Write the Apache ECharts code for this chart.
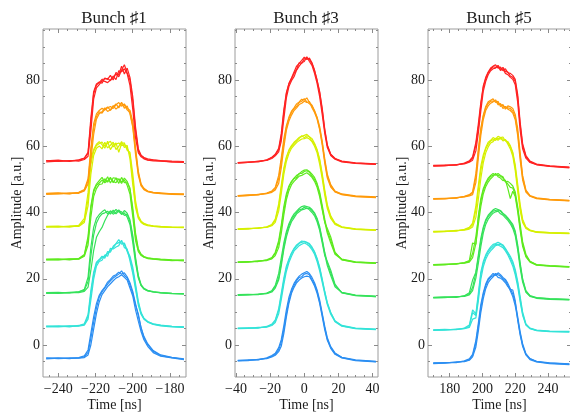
<!DOCTYPE html>
<html>
<head>
<meta charset="utf-8">
<script src="https://cdn.jsdelivr.net/npm/echarts@6/dist/echarts.min.js"></script>
<style>
html, body { margin: 0; padding: 0; background: #ffffff; }
#chart { width: 570px; height: 413px; }
</style>
</head>
<body>
<div id="chart"></div>
<script>
// Panel titles and axis tick values
const panelTitles = ['Bunch \u266F1', 'Bunch \u266F3', 'Bunch \u266F5'];
const ampMajor = [0, 20, 40, 60, 80];
const ampMinor = [-5, 0, 5, 10, 15, 20, 25, 30, 35, 40, 45, 50, 55, 60, 65, 70, 75, 80, 85, 90, 95];
const b1TimeMajor = [-240, -220, -200, -180];
const b1TimeMinor = [-245, -240, -235, -230, -225, -220, -215, -210, -205, -200, -195, -190, -185, -180, -175];
const b3TimeMajor = [-40, -20, 0, 20, 40];
const b3TimeMinor = [-40, -35, -30, -25, -20, -15, -10, -5, 0, 5, 10, 15, 20, 25, 30, 35, 40];
const b5TimeMajor = [180, 200, 220, 240];
const b5TimeMinor = [170, 175, 180, 185, 190, 195, 200, 205, 210, 215, 220, 225, 230, 235, 240, 245, 250];

// Bunch #1: sample times [ns] and amplitude traces (3 shots per trace group)
const b1Time = [-246.5,-240,-234,-229,-226,-224,-222.5,-221,-219.5,-218,-216.5,-215,-213.5,-212,-210.5,-209,-207.5,-206,-204.5,-203,-201.5,-200,-198.5,-197,-195.5,-194,-192,-189,-185,-179,-172.5];
const b1Blue = [
  [-4.0,-3.9,-4.1,-3.8,-3.3,-1.5,3.5,8.5,12.5,15.0,16.4,17.5,19.0,19.8,20.8,21.2,22.0,21.4,21.8,20.6,18.8,16.2,12.5,8.8,5.2,2.6,0.4,-1.7,-3.0,-3.7,-4.2],
  [-4.2,-4.0,-3.9,-4.0,-3.8,-3.0,0.0,4.8,9.5,13.0,15.2,16.4,17.6,18.5,19.4,20.2,20.6,21.2,20.4,19.6,17.2,14.8,10.6,7.2,4.0,1.6,-0.4,-2.3,-3.4,-3.9,-4.4],
  [-3.9,-4.1,-4.0,-3.9,-3.6,-2.2,2.0,6.8,11.2,14.4,16.0,17.2,18.4,19.4,20.2,20.8,21.4,22.4,21.0,20.2,18.2,15.6,12.0,9.4,5.0,2.2,0.1,-1.9,-3.2,-3.8,-4.3]
];
const b1Cyan = [
  [5.7,5.8,5.5,5.9,6.4,9.2,16.5,22.0,25.0,25.8,26.8,26.2,28.2,28.0,29.8,30.6,31.8,30.4,30.8,28.6,26.8,23.5,18.5,13.2,9.8,8.1,7.1,6.4,6.0,5.6,5.5],
  [5.5,5.6,5.8,5.7,6.0,7.8,13.5,19.8,23.8,25.2,25.6,27.2,26.8,29.2,29.0,29.6,30.0,31.6,29.4,29.0,25.4,21.6,16.8,12.0,9.2,7.8,6.9,6.2,5.8,5.5,5.3],
  [5.6,5.5,5.7,5.8,6.2,8.6,15.2,21.2,24.6,25.6,26.4,26.9,27.6,28.6,29.4,30.5,30.9,31.2,30.4,28.2,26.2,22.6,17.6,12.6,9.5,8.0,7.0,6.3,5.9,5.6,5.4]
];
const b1Green = [
  [15.8,15.9,15.7,16.0,16.8,20.5,29.5,35.5,38.2,39.4,40.2,40.8,39.6,40.5,40.0,40.9,40.2,39.5,40.6,39.8,37.8,33.2,26.5,21.0,18.2,17.1,16.5,16.1,15.8,15.6,15.5],
  [15.6,15.7,15.9,15.8,16.2,17.5,22.5,28.5,32.5,34.2,35.5,37.5,39.2,40.3,39.5,40.1,40.8,39.4,39.9,38.6,36.4,31.0,24.8,20.2,17.9,16.9,16.3,16.0,15.7,15.5,15.4],
  [15.7,15.6,15.8,16.1,16.5,19.2,26.8,33.2,36.8,38.6,39.6,39.9,40.4,39.5,40.7,39.6,40.5,40.2,39.1,39.5,37.2,32.4,25.8,20.6,18.0,17.0,16.4,16.0,15.8,15.6,15.4]
];
const b1Lime = [
  [25.9,26.0,25.7,26.1,27.3,32.8,42.0,46.8,48.6,49.6,50.6,49.2,50.8,48.9,50.5,50.3,48.8,50.6,49.0,49.2,47.4,41.5,33.8,29.0,27.4,26.7,26.3,26.1,25.9,25.7,25.6],
  [25.7,25.8,26.0,25.9,26.8,30.2,38.5,44.8,47.2,48.5,48.6,50.2,49.2,50.3,49.4,49.0,50.2,49.3,49.8,48.2,45.6,38.8,31.5,28.2,27.0,26.5,26.1,25.9,25.7,25.6,25.4],
  [25.8,25.7,25.9,26.0,27.1,31.8,41.2,46.2,48.2,48.9,49.8,49.0,49.6,50.6,49.0,50.4,49.9,48.8,50.4,49.4,46.9,40.4,33.0,28.6,27.3,26.6,26.2,26.0,25.8,25.5,25.6]
];
const b1Yellow = [
  [35.8,35.9,35.6,36.0,37.5,44.0,54.5,58.5,60.2,60.8,61.3,60.0,60.9,61.5,59.8,60.6,61.0,60.2,60.5,59.4,57.5,50.0,42.5,38.6,37.2,36.6,36.2,36.0,35.8,35.6,35.5],
  [35.6,35.7,35.9,35.8,37.0,42.0,51.5,57.2,59.4,60.1,59.2,61.2,59.5,60.3,61.2,59.0,60.0,61.4,59.6,60.3,56.2,48.5,41.5,38.2,37.0,36.4,36.0,35.8,35.6,35.5,35.4],
  [35.7,35.6,35.8,36.1,38.2,46.0,56.0,59.0,60.6,61.4,60.5,59.4,61.5,59.0,60.4,61.0,58.2,60.8,61.0,58.8,58.2,51.8,43.6,39.0,37.4,36.7,36.3,35.9,35.7,35.5,35.6]
];
const b1Orange = [
  [45.8,45.9,45.6,46.1,46.9,50.2,59.5,66.8,69.8,70.8,71.5,70.9,71.6,72.0,71.4,72.5,73.2,72.1,72.8,71.4,70.9,67.5,59.5,52.4,48.6,47.3,46.5,46.1,45.9,45.6,45.6],
  [45.5,45.6,45.9,45.8,46.5,48.6,55.8,63.5,68.2,69.8,70.4,71.6,70.5,71.0,72.3,71.2,72.0,73.3,71.5,72.2,69.8,65.8,57.5,51.2,48.0,46.9,46.3,45.9,45.7,45.5,45.4],
  [45.7,45.8,45.7,46.0,46.7,49.5,58.2,65.5,69.0,70.4,70.0,71.2,71.9,70.8,71.9,72.8,71.6,72.9,72.4,71.0,70.2,66.2,58.8,51.8,48.3,47.1,46.4,46.0,45.8,45.7,45.5]
];
const b1Red = [
  [55.6,55.8,55.4,55.9,56.4,58.2,68.5,76.5,78.8,79.4,79.0,80.6,80.2,81.4,80.0,82.3,81.5,84.2,81.8,83.6,80.8,75.0,65.8,59.2,57.3,56.6,56.2,55.9,55.7,55.5,55.4],
  [55.3,55.5,55.7,55.5,56.0,57.0,64.5,74.2,77.6,78.6,79.8,79.6,79.2,80.0,81.2,80.1,82.8,82.5,83.4,81.9,78.4,71.2,62.5,58.0,56.8,56.2,55.8,55.6,55.5,55.3,55.1],
  [55.7,55.4,55.6,55.8,56.3,57.9,67.2,75.8,78.5,79.2,80.2,80.3,80.5,79.8,80.9,81.8,81.0,83.0,84.6,82.2,80.0,73.8,64.8,58.6,57.1,56.5,55.9,55.8,55.6,55.3,55.2]
];

// Bunch #3
const b3Time = [-39,-33,-27,-22,-19,-17,-15,-13.5,-12,-10.5,-9,-7.5,-6,-4.5,-3,-1.5,0,1.5,3,4.5,6,7.5,9,10.5,12,13.5,15.5,18,22,30,42];
const b3Blue = [
  [-4.6,-4.5,-4.5,-3.9,-3.2,-2.5,-0.8,1.6,5.8,10.6,14.4,16.8,18.6,19.8,20.8,21.4,21.8,22.2,21.6,20.4,18.8,16.6,13.6,9.6,5.6,2.2,-0.5,-2.4,-3.7,-4.5,-4.9],
  [-4.8,-4.7,-4.3,-4.1,-3.6,-3.1,-2.0,-0.4,3.4,8.4,12.6,15.6,17.4,18.8,19.6,20.2,20.6,20.8,20.6,19.4,17.8,15.6,12.6,8.6,4.6,1.4,-1.0,-2.8,-3.9,-4.7,-5.1],
  [-4.7,-4.6,-4.4,-4.0,-3.4,-2.8,-1.4,0.8,4.6,9.4,13.4,16.2,18.0,19.4,20.4,20.6,21.4,21.6,21.2,19.6,18.4,16.2,13.0,9.2,5.2,1.8,-0.8,-2.6,-3.8,-4.6,-5.0]
];
const b3Cyan = [
  [5.1,5.2,5.1,5.6,6.3,7.6,11.0,15.6,20.2,23.8,26.0,27.8,29.2,30.2,30.8,31.4,31.2,31.0,30.6,29.6,28.2,26.2,23.6,20.0,16.2,12.8,9.8,7.3,5.9,5.1,4.8],
  [4.9,5.0,5.3,5.4,5.9,6.8,9.4,13.6,18.2,22.2,24.9,26.8,28.4,29.2,30.0,30.4,30.8,30.4,29.8,28.8,27.4,25.2,22.4,18.9,15.4,12.2,9.3,7.0,5.7,4.9,4.6],
  [5.0,5.1,5.2,5.5,6.1,7.3,10.4,14.8,19.4,23.2,25.6,27.6,28.9,29.9,30.7,31.0,31.3,30.9,30.3,29.3,28.0,25.9,23.2,19.6,16.0,12.6,9.7,7.2,5.8,5.0,4.7]
];
const b3Green = [
  [15.2,15.3,15.2,15.7,16.4,18.0,21.6,26.2,30.8,34.2,36.6,38.3,39.6,40.4,41.2,41.8,42.0,41.8,41.6,40.9,39.9,38.3,35.8,32.0,28.0,24.8,21.8,18.0,15.9,15.1,14.8],
  [15.0,15.1,15.4,15.5,16.0,17.2,19.6,23.8,28.8,32.6,35.2,37.2,38.4,39.6,40.2,40.8,41.0,41.4,40.8,40.0,39.0,37.2,34.6,30.8,27.0,25.2,22.6,18.4,15.7,14.9,14.6],
  [15.1,15.2,15.3,15.6,16.3,17.6,20.2,24.8,29.6,33.6,36.0,37.9,39.0,40.0,40.8,41.0,41.6,41.2,41.3,40.6,39.6,37.8,35.2,31.6,27.4,24.0,21.0,17.6,15.8,15.0,14.6]
];
const b3Lime = [
  [25.1,25.2,25.2,25.7,26.4,28.0,31.5,36.2,41.8,45.6,48.0,49.4,50.4,51.2,51.6,52.4,52.8,52.9,52.4,51.6,50.6,48.8,46.2,42.2,38.0,34.4,31.6,27.8,25.9,25.1,24.8],
  [24.9,25.0,25.4,25.5,26.0,27.0,29.4,33.6,39.2,43.8,46.6,48.4,49.4,50.2,51.0,51.2,51.6,52.0,51.4,50.6,49.4,47.6,44.8,40.8,37.0,35.2,32.6,28.0,25.7,24.9,24.6],
  [25.0,25.1,25.3,25.6,26.2,27.6,30.8,35.4,40.6,44.9,47.6,49.2,50.2,50.6,51.8,51.8,52.4,52.6,52.2,51.0,50.0,48.4,45.6,41.4,37.2,33.8,30.8,27.4,25.8,25.0,24.7]
];
const b3Yellow = [
  [35.1,35.2,35.2,35.7,36.4,38.0,42.6,48.2,53.4,56.8,58.9,60.2,61.2,61.9,62.7,62.9,63.3,63.6,62.9,62.3,60.9,59.0,56.2,51.8,46.8,42.4,39.0,36.8,35.7,35.1,34.8],
  [34.9,35.0,35.4,35.5,36.0,37.0,40.4,45.6,51.4,55.4,57.8,59.4,60.3,61.1,61.7,62.2,62.3,62.6,62.2,61.4,60.0,58.0,54.6,50.2,45.2,41.2,38.2,36.4,35.5,34.9,34.6],
  [35.0,35.1,35.3,35.6,36.2,37.6,41.8,47.2,52.8,56.4,58.6,60.0,60.9,61.6,62.4,63.2,62.6,63.2,62.8,61.6,60.6,58.8,55.8,51.2,46.2,41.9,38.7,36.6,35.6,35.0,34.7]
];
const b3Orange = [
  [45.1,45.3,45.3,45.9,46.5,47.6,51.2,56.5,62.2,66.2,68.8,70.6,71.6,72.8,73.4,74.2,73.9,74.6,73.2,72.4,70.8,68.8,66.0,61.6,56.2,51.6,48.4,46.5,45.6,45.0,44.7],
  [44.9,45.1,45.5,45.7,46.1,46.8,48.8,53.4,59.6,64.8,67.6,69.4,70.8,71.6,72.6,73.0,73.6,73.2,73.5,71.6,70.2,68.2,65.0,60.4,54.8,50.4,47.7,46.2,45.4,44.8,44.5],
  [45.0,45.2,45.4,45.8,46.3,47.3,50.2,55.2,61.0,65.6,68.4,70.2,71.4,72.0,73.2,73.6,74.4,73.4,72.8,72.2,70.6,68.6,65.4,61.0,55.6,51.0,48.1,46.3,45.5,44.9,44.6]
];
const b3Red = [
  [55.1,55.3,55.3,55.9,56.7,57.6,59.4,63.8,71.0,76.2,79.0,80.6,82.4,84.2,85.0,85.9,86.9,86.2,86.6,85.2,83.0,80.0,76.6,71.5,65.2,60.4,57.6,56.3,55.5,55.0,54.7],
  [54.9,55.1,55.5,55.7,56.3,57.1,58.3,61.5,68.2,74.6,78.0,79.8,81.0,83.0,84.2,85.2,85.6,87.0,85.6,84.4,82.0,79.0,75.0,69.6,63.8,59.6,57.2,56.1,55.3,54.8,54.5],
  [55.0,55.1,55.4,55.8,56.6,57.4,59.0,62.8,70.2,75.8,78.8,80.4,82.0,83.2,85.2,85.0,86.4,86.6,86.2,85.0,82.8,79.8,76.2,70.9,64.8,60.2,57.5,56.3,55.4,54.9,54.6]
];

// Bunch #5
const b5Time = [170,177,184,189,192,194,196,197.5,199,200.5,202,203.5,205,206.5,208,209.5,211,212.5,214,215.5,217,218.5,220,221.5,223,224.5,226.5,229,233,241,253];
const b5Blue = [
  [-5.4,-5.3,-5.3,-4.8,-4.2,-2.8,1.4,6.6,12.2,15.8,18.4,20.0,20.8,21.6,21.0,21.8,21.2,20.4,19.8,18.6,17.0,15.4,12.8,8.6,4.0,0.4,-2.6,-4.1,-4.9,-5.4,-5.7],
  [-5.6,-5.5,-5.1,-5.0,-4.6,-3.6,-0.6,4.2,9.8,14.0,17.0,18.8,19.8,20.6,21.4,20.4,20.2,19.6,18.8,17.6,16.8,16.6,13.4,7.4,3.0,-0.4,-3.0,-4.4,-5.1,-5.6,-5.9],
  [-5.5,-5.4,-5.2,-4.9,-4.4,-3.2,0.6,5.6,11.2,15.2,17.9,19.6,20.5,21.0,21.6,21.2,20.8,20.0,19.4,18.0,16.4,14.6,11.8,7.9,3.4,-0.1,-2.8,-4.2,-5.0,-5.5,-5.8]
];
const b5Cyan = [
  [4.6,4.7,4.6,5.1,6.0,10.6,9.4,15.6,22.0,25.2,27.2,28.6,29.6,30.4,30.6,31.0,30.6,30.2,29.2,28.0,26.8,25.2,22.8,19.2,14.6,10.0,6.4,5.1,4.5,4.2,4.1],
  [4.4,4.5,4.8,4.9,5.3,7.8,8.2,13.2,19.8,23.6,25.9,27.4,28.4,29.2,30.0,30.2,29.8,29.4,28.4,27.2,25.6,23.8,21.2,17.6,13.0,9.0,6.0,4.9,4.3,4.0,3.9],
  [4.5,4.6,4.7,5.0,5.6,9.8,8.9,14.6,21.2,24.6,26.7,28.1,29.1,29.8,30.4,30.4,30.4,29.9,28.9,27.7,26.3,24.6,22.1,18.6,13.8,9.4,6.2,5.0,4.4,4.1,4.0]
];
const b5Green = [
  [14.4,14.5,14.4,14.9,15.8,19.6,22.0,27.2,32.2,35.6,37.8,39.2,40.0,40.8,41.2,40.9,40.6,39.8,39.2,38.4,37.4,36.4,34.4,30.2,24.8,20.0,16.4,14.9,14.3,14.0,13.8],
  [14.2,14.3,14.6,14.7,15.1,16.4,20.2,24.6,29.6,33.8,36.4,38.0,39.0,39.8,40.2,40.4,39.6,39.2,38.4,37.6,36.6,35.2,33.0,28.6,23.2,19.0,15.9,14.7,14.1,13.8,13.6],
  [14.3,14.4,14.5,14.8,15.4,17.4,21.8,26.4,31.2,35.0,37.4,38.8,39.6,40.4,40.6,40.8,40.4,39.4,39.0,38.0,37.2,35.8,33.9,29.6,24.2,19.6,16.2,14.8,14.2,13.9,13.7]
];
const b5Lime = [
  [24.3,24.4,24.4,24.9,25.5,30.8,30.4,39.0,44.2,47.2,49.0,50.4,51.2,51.8,51.2,51.8,51.2,50.8,49.2,49.4,48.8,48.0,46.2,41.8,36.4,31.2,27.4,25.3,24.3,24.0,23.7],
  [24.1,24.2,24.6,24.7,25.0,26.4,30.6,36.4,41.8,45.6,47.8,49.2,50.2,50.9,51.8,50.8,50.4,49.6,49.8,47.2,44.2,46.4,44.8,40.2,34.6,29.8,26.6,25.0,24.1,23.8,23.5],
  [24.2,24.3,24.5,24.8,25.3,27.6,32.8,38.4,43.4,46.6,48.6,49.9,50.9,51.2,51.6,51.2,51.0,50.4,49.4,48.6,47.6,47.4,45.4,41.0,35.4,30.4,26.9,25.2,24.2,23.9,23.6]
];
const b5Yellow = [
  [34.3,34.4,34.4,34.9,35.5,36.8,42.0,48.2,54.0,57.4,59.6,61.2,61.8,62.6,62.2,63.0,62.6,62.8,61.6,61.4,60.2,58.2,54.4,48.6,42.4,38.0,35.6,34.7,34.2,33.9,33.8],
  [34.1,34.2,34.6,34.7,35.0,35.6,38.6,44.0,50.2,55.0,58.0,59.8,61.0,61.4,62.4,61.8,62.6,61.6,62.0,60.6,59.2,57.0,52.6,46.4,40.6,37.0,35.2,34.5,34.0,33.8,33.6],
  [34.2,34.3,34.5,34.8,35.3,36.3,40.8,46.8,52.6,56.6,59.2,60.6,61.6,62.0,61.8,62.4,62.2,62.2,61.9,61.0,59.9,57.8,53.6,47.6,41.6,37.4,35.4,34.6,34.1,33.9,33.7]
];
const b5Orange = [
  [44.2,44.3,44.3,44.9,45.4,46.2,51.8,59.2,65.4,69.4,72.0,73.4,73.9,74.3,73.2,73.6,72.0,72.6,71.2,72.2,71.9,71.4,69.6,65.4,58.0,51.2,46.8,45.1,44.4,44.0,43.7],
  [44.0,44.1,44.5,44.7,45.0,45.4,49.0,56.4,63.2,68.0,70.8,72.2,73.0,73.4,74.0,72.5,72.9,71.4,72.0,71.2,70.8,70.0,68.0,63.2,55.8,49.8,46.2,44.9,44.2,43.8,43.5],
  [44.1,44.2,44.4,44.8,45.2,45.9,50.6,58.2,64.8,69.0,71.6,72.9,73.6,73.6,73.8,72.9,72.6,72.2,71.8,71.6,71.4,70.6,68.8,64.2,57.2,50.6,46.6,45.0,44.3,43.9,43.6]
];
const b5Red = [
  [54.2,54.3,54.3,54.9,55.6,56.8,61.2,66.8,73.2,78.2,80.8,82.4,83.6,84.2,84.6,83.6,83.9,82.8,83.4,82.2,82.0,81.4,80.2,75.6,67.2,60.8,57.2,55.5,54.6,54.1,53.7],
  [54.0,54.1,54.5,54.7,55.2,55.8,58.6,64.0,70.6,76.6,79.6,81.6,82.8,83.4,83.6,84.2,82.9,83.4,82.0,81.6,80.8,80.2,78.6,73.2,64.8,59.2,56.4,55.1,54.4,53.9,53.5],
  [54.1,54.2,54.4,54.8,55.4,56.4,60.4,65.6,72.4,77.8,80.4,82.2,83.2,84.0,83.8,84.4,83.2,83.8,82.6,82.4,81.2,80.8,79.6,74.8,66.4,60.2,56.9,55.3,54.5,54.0,53.6]
];

// One colour per trace group, bottom to top
const groupColors = ['#2b8ef2', '#33e3d8', '#35e25a', '#5eea1e', '#d6f000', '#ff9a0a', '#ff2222'];

const SERIF = "'Liberation Serif', 'DejaVu Serif', serif";
const TEXT = '#1c1c1c';
const FRAME = '#9c9c9c';
const TICK = '#8a8a8a';

const panels = [
  { title: panelTitles[0], time: b1Time, groups: [b1Blue, b1Cyan, b1Green, b1Lime, b1Yellow, b1Orange, b1Red],
    range: [-248.2, -171.4], major: b1TimeMajor, minor: b1TimeMinor, left: 43 },
  { title: panelTitles[1], time: b3Time, groups: [b3Blue, b3Cyan, b3Green, b3Lime, b3Yellow, b3Orange, b3Red],
    range: [-40.6, 43.2], major: b3TimeMajor, minor: b3TimeMinor, left: 235 },
  { title: panelTitles[2], time: b5Time, groups: [b5Blue, b5Cyan, b5Green, b5Lime, b5Yellow, b5Orange, b5Red],
    range: [166.8, 254.0], major: b5TimeMajor, minor: b5TimeMinor, left: 428 }
];

const Y_MIN = -9.66, Y_MAX = 95.4;
const fmtNum = v => (v < 0 ? '\u2212' + Math.abs(v) : String(v));

const grid = [], xAxis = [], yAxis = [], series = [], title = [];

panels.forEach((p, i) => {
  // fixed plot frames: labels are allowed to sit outside without shrinking the frame
  grid.push({ left: p.left, top: 29, width: 143, height: 348, show: true,
    borderColor: FRAME, borderWidth: 1, backgroundColor: 'transparent',
    containLabel: false, outerBoundsMode: 'none' });
  title.push({ text: p.title, left: p.left + 66, top: 5, textAlign: 'center',
    textStyle: { fontFamily: SERIF, fontSize: 17, fontWeight: 'normal', color: TEXT } });

  const xBase = { gridIndex: i, type: 'value', min: p.range[0], max: p.range[1],
    axisLine: { show: false, onZero: false }, splitLine: { show: false } };
  const yBase = { gridIndex: i, type: 'value', min: Y_MIN, max: Y_MAX,
    axisLine: { show: false, onZero: false }, splitLine: { show: false } };

  ['bottom', 'top'].forEach(pos => {
    const labelled = pos === 'bottom';
    xAxis.push(Object.assign({}, xBase, {
      position: pos,
      axisTick: { show: true, inside: true, length: 4, customValues: p.major, lineStyle: { color: TICK } },
      axisLabel: labelled ? { show: true, customValues: p.major, formatter: fmtNum,
        fontFamily: SERIF, fontSize: 14, color: TEXT, margin: 5 } : { show: false },
      name: labelled ? 'Time [ns]' : '', nameLocation: 'middle', nameGap: 21, nameMoveOverlap: false,
      nameTextStyle: { fontFamily: SERIF, fontSize: 14, color: TEXT }
    }));
    xAxis.push(Object.assign({}, xBase, {
      position: pos,
      axisTick: { show: true, inside: true, length: 2, customValues: p.minor, lineStyle: { color: TICK } },
      axisLabel: { show: false }
    }));
  });

  ['left', 'right'].forEach(pos => {
    const labelled = pos === 'left';
    yAxis.push(Object.assign({}, yBase, {
      position: pos,
      axisTick: { show: true, inside: true, length: 4, customValues: ampMajor, lineStyle: { color: TICK } },
      axisLabel: labelled ? { show: true, customValues: ampMajor, formatter: fmtNum,
        fontFamily: SERIF, fontSize: 14, color: TEXT, margin: 3 } : { show: false },
      name: labelled ? 'Amplitude [a.u.]' : '', nameLocation: 'middle', nameGap: 19, nameMoveOverlap: false,
      nameTextStyle: { fontFamily: SERIF, fontSize: 14, color: TEXT }
    }));
    yAxis.push(Object.assign({}, yBase, {
      position: pos,
      axisTick: { show: true, inside: true, length: 2, customValues: ampMinor, lineStyle: { color: TICK } },
      axisLabel: { show: false }
    }));
  });

  p.groups.forEach((group, gi) => {
    group.forEach(values => {
      series.push({
        type: 'line', xAxisIndex: 4 * i, yAxisIndex: 4 * i,
        data: values.map((v, k) => [p.time[k], v]),
        showSymbol: false, symbol: 'none', silent: true, animation: false, clip: true,
        lineStyle: { width: 1.2, color: groupColors[gi] },
        itemStyle: { color: groupColors[gi] }
      });
    });
  });
});

const chart = echarts.init(document.getElementById('chart'), null, { renderer: 'canvas' });
chart.setOption({ animation: false, backgroundColor: '#ffffff', title, grid, xAxis, yAxis, series });
</script>
</body>
</html>
